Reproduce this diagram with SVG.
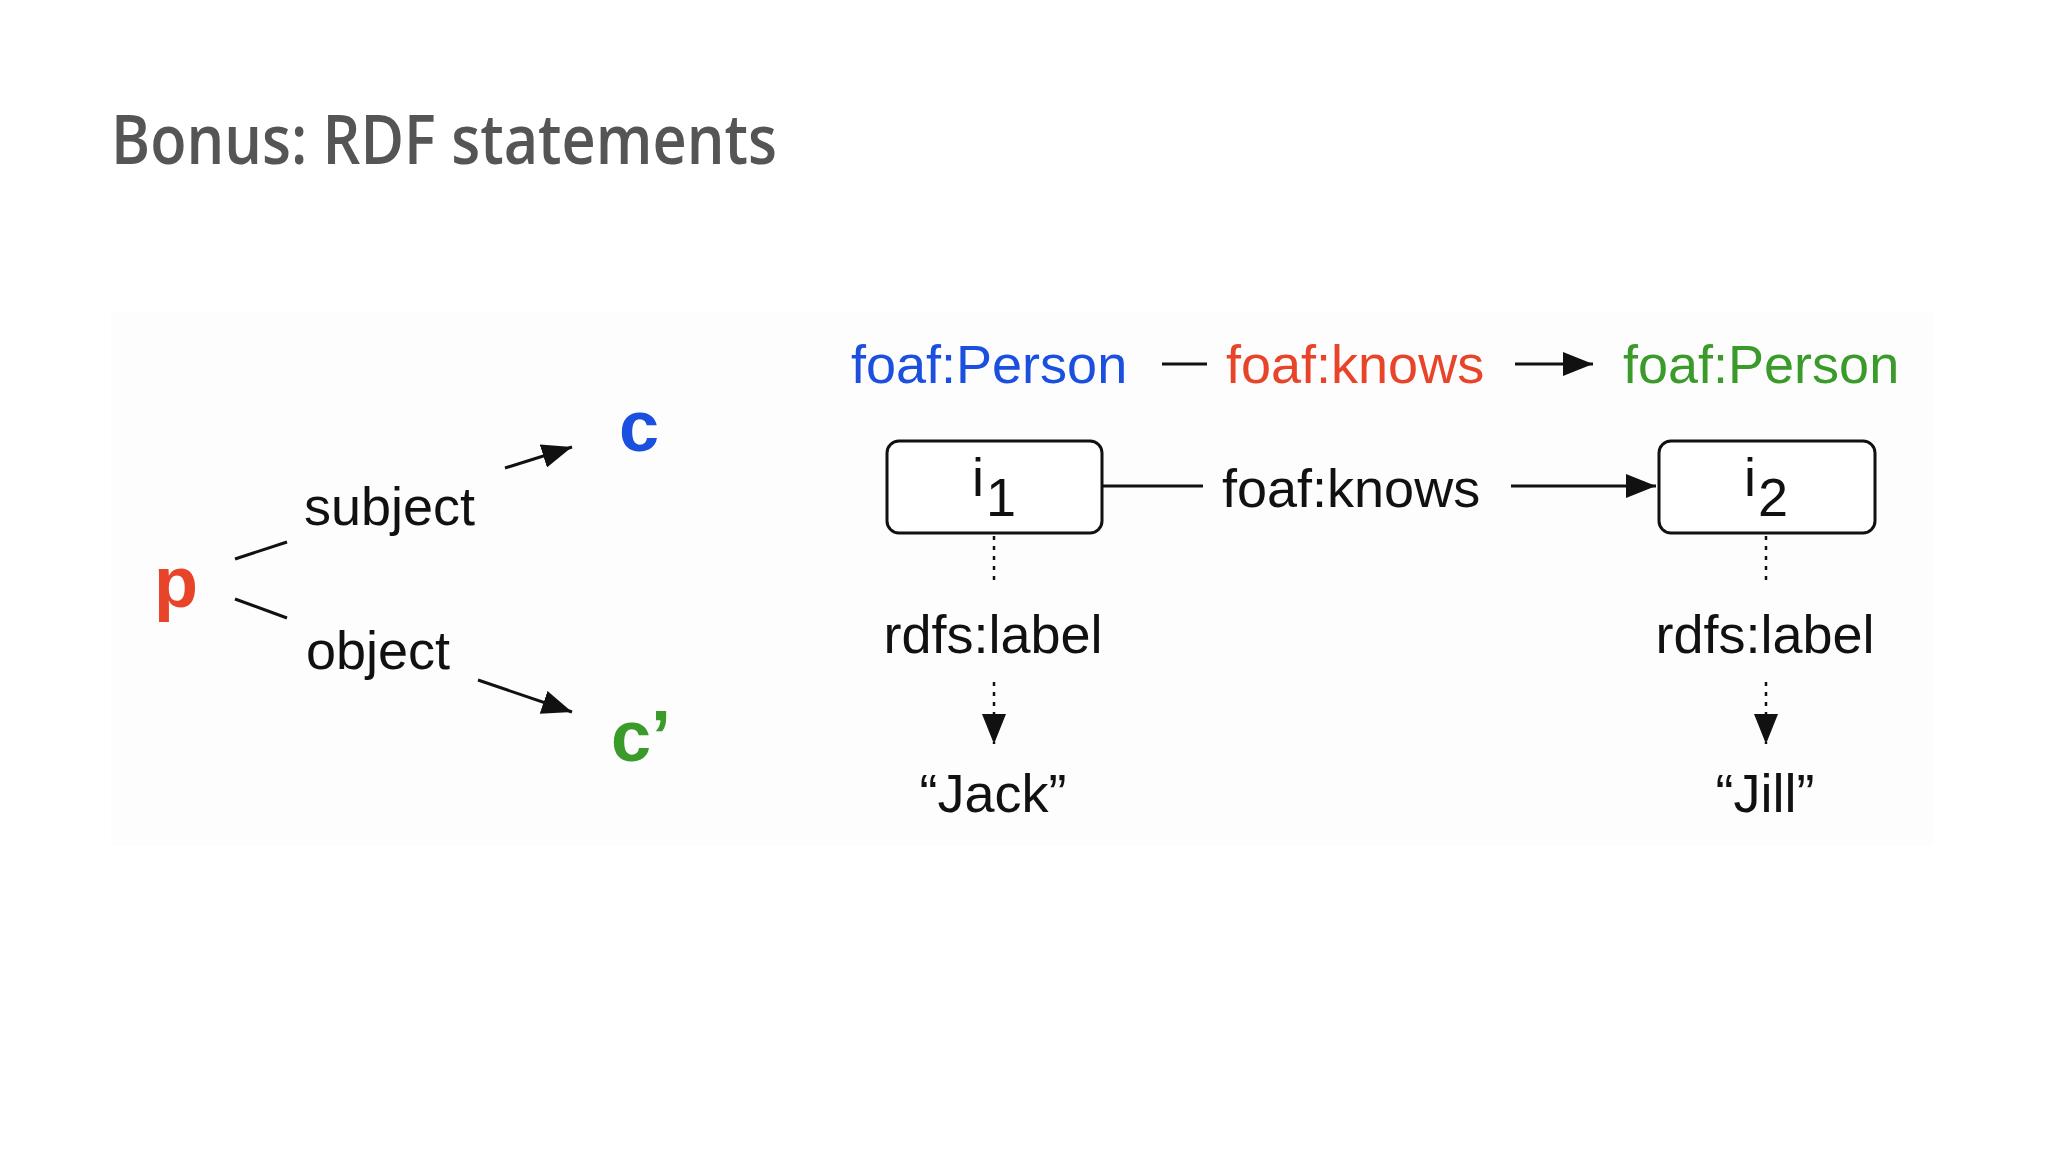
<svg xmlns="http://www.w3.org/2000/svg" width="2048" height="1152" viewBox="0 0 2048 1152">
<style>
text{font-family:"Liberation Sans",Arial,sans-serif;}
.t{font-size:54px;fill:#111;}
.big{font-size:72px;font-weight:bold;}
.ln{stroke:#111;stroke-width:3;fill:none;}
.dot{stroke:#111;stroke-width:2.5;stroke-dasharray:4 6;fill:none;}
.box{fill:#fff;stroke:#111;stroke-width:3;}
</style>
<defs>
<marker id="ah2" viewBox="0 0 10 8" refX="10" refY="4" markerWidth="30" markerHeight="24" orient="auto" markerUnits="userSpaceOnUse">
<path d="M0,0 L10,4 L0,8 z" fill="#111"/>
</marker>
</defs>
<rect width="2048" height="1152" fill="#fff"/>
<text x="111" y="164" font-size="68" font-weight="600" fill="#555" textLength="666" lengthAdjust="spacingAndGlyphs" style="font-family:'Open Sans',sans-serif">Bonus: RDF statements</text>
<rect x="111" y="311" width="1822" height="535" fill="#fdfdfd"/>
<g id="connectors">
<line class="ln" x1="235" y1="559" x2="287" y2="542"/>
<line class="ln" x1="235" y1="599" x2="287" y2="618"/>
<line class="ln" x1="505" y1="468" x2="572" y2="447" marker-end="url(#ah2)"/>
<line class="ln" x1="478" y1="680" x2="572" y2="712" marker-end="url(#ah2)"/>
<line class="ln" x1="1162" y1="364" x2="1207" y2="364"/>
<line class="ln" x1="1515" y1="364" x2="1593" y2="364" marker-end="url(#ah2)"/>
<line class="ln" x1="1102" y1="486" x2="1203" y2="486"/>
<line class="ln" x1="1511" y1="486" x2="1656" y2="486" marker-end="url(#ah2)"/>
<line class="dot" x1="994" y1="536" x2="994" y2="580"/>
<line class="dot" x1="1766" y1="536" x2="1766" y2="580"/>
<line class="dot" x1="994" y1="682" x2="994" y2="744" marker-end="url(#ah2)"/>
<line class="dot" x1="1766" y1="682" x2="1766" y2="744" marker-end="url(#ah2)"/>
</g>
<g id="p"><text class="big" x="154" y="607" fill="#e8442a">p</text></g>
<g id="c"><text class="big" x="619" y="451" fill="#1a4fe0">c</text></g>
<g id="c2"><text class="big" x="611" y="761" fill="#3a9a2a">c’</text></g>
<g id="subject"><text class="t" x="304" y="525">subject</text></g>
<g id="object"><text class="t" x="306" y="669">object</text></g>
<g id="person1"><text class="t" x="851" y="383" style="fill:#1a4fe0">foaf:Person</text></g>
<g id="knows1"><text class="t" x="1226" y="383" style="fill:#e8442a">foaf:knows</text></g>
<g id="person2"><text class="t" x="1623" y="383" style="fill:#3a9a2a">foaf:Person</text></g>
<g id="i1"><rect class="box" x="887" y="441" width="215" height="92" rx="12"/><text class="t" x="972" y="496">i</text><text class="t" x="986" y="516">1</text></g>
<g id="i2"><rect class="box" x="1659" y="441" width="216" height="92" rx="12"/><text class="t" x="1744" y="496">i</text><text class="t" x="1758" y="516">2</text></g>
<g id="knows2"><text class="t" x="1222" y="507">foaf:knows</text></g>
<g id="label1"><text class="t" x="993" y="653" text-anchor="middle">rdfs:label</text></g>
<g id="label2"><text class="t" x="1765" y="653" text-anchor="middle">rdfs:label</text></g>
<g id="jack"><text class="t" x="993" y="812" text-anchor="middle">“Jack”</text></g>
<g id="jill"><text class="t" x="1765" y="812" text-anchor="middle">“Jill”</text></g>
</svg>
